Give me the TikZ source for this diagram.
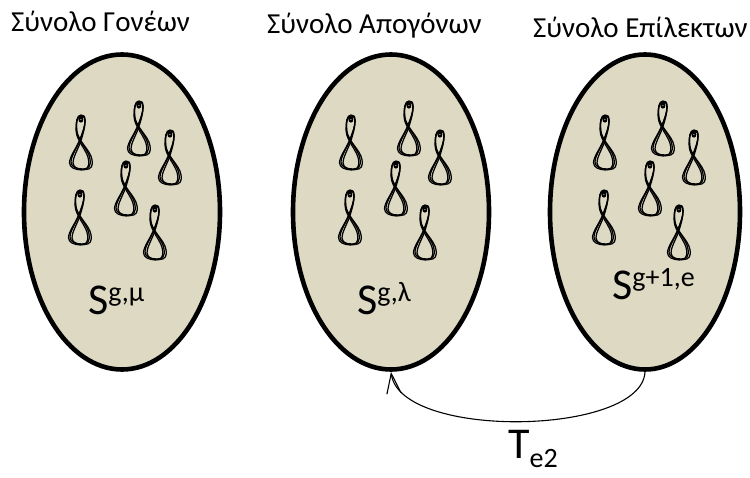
\documentclass[tikz,border=0pt]{standalone}
\usepackage{fontspec}
\setmainfont{Carlito}
\usetikzlibrary{arrows.meta,shapes.geometric}
\definecolor{setfill}{HTML}{DDD9C3}
\tikzset{
  setshape/.style={draw=black, line width=4.6pt, fill=setfill, ellipse, inner sep=0pt, minimum height=315pt},
  strand/.style={draw=black, line width=1.25pt, line join=round},
  title/.style={anchor=base west, inner sep=0pt, font=\fontsize{29}{33}\selectfont},
  setlabel/.style={anchor=base west, inner sep=0pt},
  flow/.style={draw=black, line width=1.1pt, -{Straight Barb[length=20pt,width=14pt,line width=1.1pt]}},
  pics/clip/.style={code={
    \foreach \dx/\dy/\r in {0/0/0, 1.0/0.7/3, -0.8/0.9/-2}{
      \path[strand, shift={(\dx,\dy)}, rotate=\r]
        (0,-27) .. controls (-4,-27) and (-5,-20) .. (-4.5,-12)
        .. controls (-4,-2) and (8,8) .. (9,17)
        .. controls (10,24) and (8,27) .. (2,27)
        .. controls (-4,27) and (-10,25) .. (-10,20)
        .. controls (-10,14) and (-4,6) .. (-1,-2)
        .. controls (2,-10) and (4,-16) .. (4,-21)
        .. controls (4,-26) and (3,-27) .. (0,-27) -- cycle;
      \path[strand, shift={(\dx,\dy)}, rotate=\r]
        (0,-23) ellipse [x radius=1.6pt, y radius=2pt];
    }
  }}
}
\newcommand{\bigS}[1]{{\fontsize{44}{44}\selectfont #1}}
\newcommand{\supText}[1]{\raisebox{13pt}{\fontsize{28}{28}\selectfont #1}}
\begin{document}
\begin{tikzpicture}[x=1pt, y=-1pt]
  \useasboundingbox (0,0) rectangle (750,478);

  % the three sets
  \node[setshape, minimum width=196pt] (parents) at (122,212) {};
  \node[setshape, minimum width=196pt] (offspring) at (391,212) {};
  \node[setshape, minimum width=190pt] (elite) at (645,212) {};

  % titles
  \node[title] (tparents) at (11,32) {Σύνολο Γονέων};
  \node[title] (toffspring) at (267,34) {Σύνολο Απογόνων};
  \node[title] (telite) at (533,38) {Σύνολο Επίλεκτων};

  % individuals inside each set
  \foreach \ox in {0,270,524}{
    \foreach \cx/\cy in {81/142, 139/128, 170/157, 126/188, 80/217, 155/232}{
      \pic at (\cx+\ox,\cy) {clip};
    }
  }

  % set labels
  \node[setlabel] (lparents) at (88,315) {\bigS{S}\supText{g,μ}};
  \node[setlabel] (loffspring) at (357,315) {\bigS{S}\supText{g,λ}};
  \node[setlabel] (lelite) at (612,300) {\bigS{S}\supText{g+1,e}};

  % transfer from the elite set back to the offspring set
  \draw[flow] (elite.south) .. controls (642,436) and (400,440) .. (offspring.south);
  \node[setlabel] (ttransfer) at (508,458) {\bigS{T}\raisebox{-9pt}{\fontsize{28}{28}\selectfont e2}};
\end{tikzpicture}
\end{document}
